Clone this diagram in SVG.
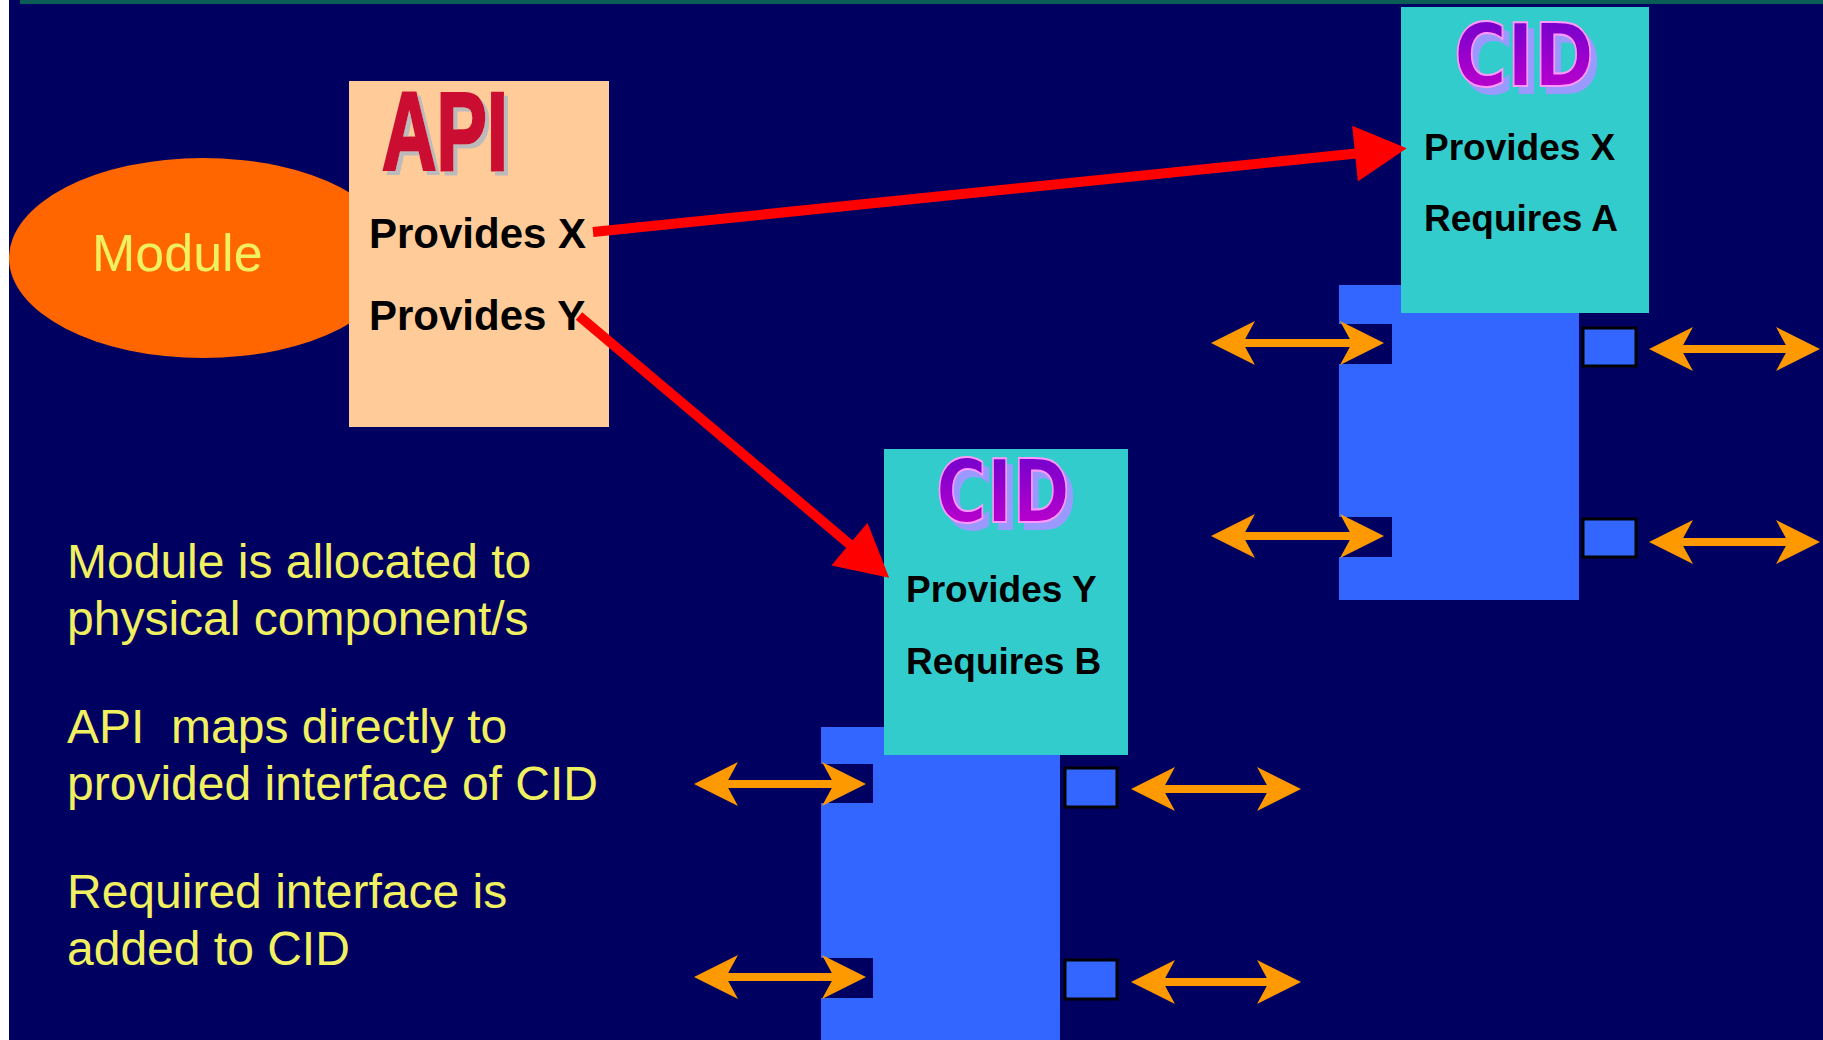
<svg xmlns="http://www.w3.org/2000/svg" width="1823" height="1040" viewBox="0 0 1823 1040">
<style>
.bg{fill:#000060}
.label{font-family:"Liberation Sans",Arial,sans-serif;font-weight:bold;fill:#000}
.yel{font-family:"Liberation Sans",Arial,sans-serif;fill:#f0f060}
.cidt{font-family:"DejaVu Sans","Liberation Sans",sans-serif;font-weight:bold}
.blue{fill:#3366ff}
.notch{fill:#000060}
.port{fill:#3366ff;stroke:#000;stroke-width:3}
.oa{stroke:#ff9900;stroke-width:8;fill:none}
.ra{stroke:#ff0000;stroke-width:10;fill:none}
</style>
<defs>
<linearGradient id="cidg" x1="0" y1="0" x2="0" y2="1">
<stop offset="0" stop-color="#6600cc"/>
<stop offset="1" stop-color="#cc00cc"/>
</linearGradient>
<filter id="grayShadow" x="-10%" y="-10%" width="130%" height="130%">
<feOffset in="SourceAlpha" dx="4" dy="4" result="o"/>
<feFlood flood-color="#bbbbbb"/>
<feComposite in2="o" operator="in" result="s"/>
<feMerge><feMergeNode in="s"/><feMergeNode in="SourceGraphic"/></feMerge>
</filter>
<filter id="lavShadow" x="-10%" y="-10%" width="130%" height="130%">
<feOffset in="SourceAlpha" dx="6" dy="7" result="o"/>
<feFlood flood-color="#9999ff"/>
<feComposite in2="o" operator="in" result="s"/>
<feMerge><feMergeNode in="s"/><feMergeNode in="SourceGraphic"/></feMerge>
</filter>
<marker id="oh" markerUnits="userSpaceOnUse" markerWidth="48" markerHeight="48" viewBox="-46 -24 48 48" refX="-30" refY="0" orient="auto-start-reverse">
<path d="M0,0 L-44,-22 L-32,0 L-44,22 Z" fill="#ff9900"/>
</marker>
<marker id="rh" markerUnits="userSpaceOnUse" markerWidth="56" markerHeight="60" viewBox="-54 -30 56 60" refX="-46" refY="0" orient="auto">
<path d="M0,0 L-52,-28 L-52,28 Z" fill="#ff0000"/>
</marker>
</defs>
<rect class="bg" x="0" y="0" width="1823" height="1040"/>
<rect x="0" y="0" width="9" height="1040" fill="#ffffff"/>
<rect x="20" y="0" width="1803" height="4" fill="#0b5e55"/>

<g id="module">
<ellipse cx="203" cy="258" rx="194" ry="100" fill="#ff6600"/>
<text class="yel" x="92" y="271" font-size="52">Module</text>
</g>

<g id="api">
<rect x="349" y="81" width="260" height="346" fill="#ffcc99"/>
<text x="382" y="170" font-family="Liberation Sans,Arial,sans-serif" font-weight="bold" font-size="112" fill="#cc1133" stroke="#cc1133" stroke-width="3" textLength="126" lengthAdjust="spacingAndGlyphs" filter="url(#grayShadow)">API</text>
<text class="label" x="369" y="248" font-size="42">Provides X</text>
<text class="label" x="369" y="330" font-size="42">Provides Y</text>
</g>

<g id="component1">
<rect class="blue" x="1339" y="285" width="240" height="315"/>
<rect class="notch" x="1339" y="324" width="53" height="40"/>
<rect class="notch" x="1339" y="517" width="53" height="40"/>
<rect class="port" x="1583" y="328" width="53" height="38"/>
<rect class="port" x="1583" y="519" width="53" height="38"/>
</g>

<g id="cid1">
<rect x="1401" y="7" width="248" height="306" fill="#33cccc"/>
<text class="cidt" x="1454" y="86" font-size="88" fill="url(#cidg)" stroke="#ff99ff" stroke-width="2" textLength="140" lengthAdjust="spacingAndGlyphs" filter="url(#lavShadow)">CID</text>
<text class="label" x="1424" y="160" font-size="37">Provides X</text>
<text class="label" x="1424" y="231" font-size="37">Requires A</text>
</g>

<g id="component2">
<rect class="blue" x="821" y="727" width="239" height="313"/>
<rect class="notch" x="821" y="764" width="52" height="39"/>
<rect class="notch" x="821" y="958" width="52" height="40"/>
<rect class="port" x="1065" y="768" width="52" height="39"/>
<rect class="port" x="1065" y="960" width="52" height="39"/>
</g>

<g id="cid2">
<rect x="884" y="449" width="244" height="306" fill="#33cccc"/>
<text class="cidt" x="936" y="522" font-size="88" fill="url(#cidg)" stroke="#ff99ff" stroke-width="2" textLength="134" lengthAdjust="spacingAndGlyphs" filter="url(#lavShadow)">CID</text>
<text class="label" x="906" y="602" font-size="37">Provides Y</text>
<text class="label" x="906" y="674" font-size="37">Requires B</text>
</g>

<g id="notes">
<text class="yel" x="67" y="578" font-size="48">Module is allocated to</text>
<text class="yel" x="67" y="635" font-size="48">physical component/s</text>
<text class="yel" x="67" y="743" font-size="48" xml:space="preserve">API  maps directly to</text>
<text class="yel" x="67" y="800" font-size="48">provided interface of CID</text>
<text class="yel" x="67" y="908" font-size="48">Required interface is</text>
<text class="yel" x="67" y="965" font-size="48">added to CID</text>
</g>

<g id="connectors">
<line class="ra" x1="593" y1="232" x2="1361" y2="153" marker-end="url(#rh)"/>
<line class="ra" x1="579" y1="316" x2="854" y2="548" marker-end="url(#rh)"/>
<line class="oa" x1="1241" y1="343" x2="1354" y2="343" marker-start="url(#oh)" marker-end="url(#oh)"/>
<line class="oa" x1="1241" y1="536" x2="1354" y2="536" marker-start="url(#oh)" marker-end="url(#oh)"/>
<line class="oa" x1="1679" y1="349" x2="1790" y2="349" marker-start="url(#oh)" marker-end="url(#oh)"/>
<line class="oa" x1="1679" y1="542" x2="1790" y2="542" marker-start="url(#oh)" marker-end="url(#oh)"/>
<line class="oa" x1="724" y1="784" x2="836" y2="784" marker-start="url(#oh)" marker-end="url(#oh)"/>
<line class="oa" x1="724" y1="977" x2="836" y2="977" marker-start="url(#oh)" marker-end="url(#oh)"/>
<line class="oa" x1="1161" y1="789" x2="1271" y2="789" marker-start="url(#oh)" marker-end="url(#oh)"/>
<line class="oa" x1="1161" y1="982" x2="1271" y2="982" marker-start="url(#oh)" marker-end="url(#oh)"/>
</g>
</svg>
